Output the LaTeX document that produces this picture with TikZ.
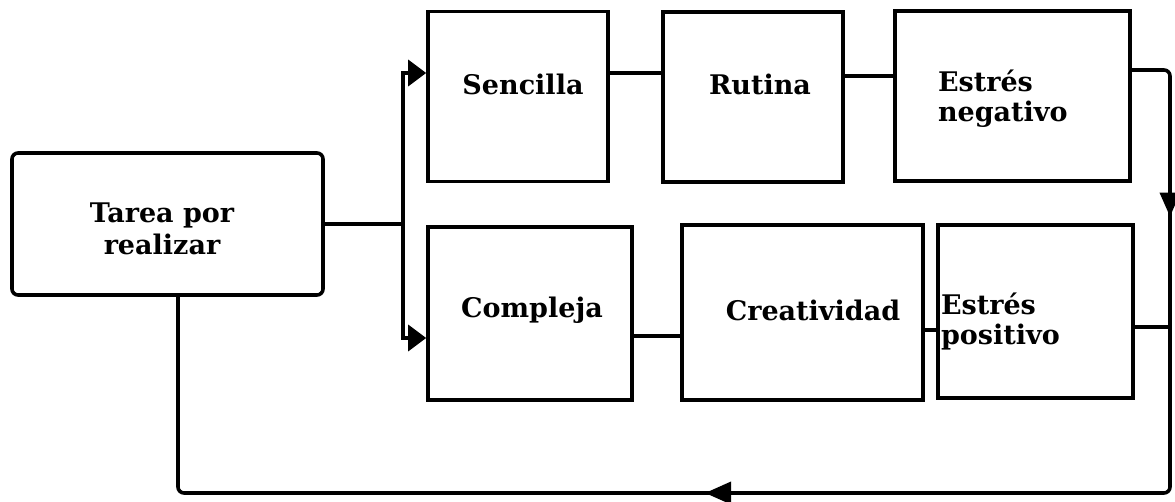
\documentclass[tikz,border=0pt]{standalone}
\usepackage{fontspec}
\setmainfont{DejaVu Serif}
\usetikzlibrary{arrows.meta,decorations.markings}
\begin{document}
\begin{tikzpicture}[x=0.5pt,y=-0.5pt,
  box/.style={draw, line width=1.8pt, inner sep=0pt},
  lbl/.style={font=\bfseries\fontsize{13.5}{15}\selectfont},
  conn/.style={line width=1.8pt},
  arr/.style={conn, -{Triangle[length=9pt,width=13pt]}},
  loopline/.style={conn, rounded corners=3pt, postaction={decorate},
    decoration={markings,
      mark=at position 0.111 with {\arrow{Triangle[length=12pt,width=10pt]}},
      mark=at position 0.561 with {\arrow{Triangle[length=13pt,width=11pt]}}}}
]
\useasboundingbox (0,0) rectangle (1175,502);

% boxes
\node[box, rounded corners=3pt, minimum width=155.5pt, minimum height=71pt] (tar) at (167.5,224) {};
\node[box, minimum width=90pt, minimum height=85pt] (sen) at (518,96.5) {};
\node[box, minimum width=90pt, minimum height=85pt] (rut) at (753,97) {};
\node[box, minimum width=117.5pt, minimum height=85pt] (neg) at (1012.5,96) {};
\node[box, minimum width=102pt, minimum height=86.5pt] (com) at (530,313.5) {};
\node[box, minimum width=120.5pt, minimum height=87.5pt] (cre) at (802.5,312.5) {};
\node[box, minimum width=97.5pt, minimum height=86.5pt] (pos) at (1035.5,311.5) {};

% texts
\node[lbl, align=center, font=\bfseries\fontsize{13.5}{16}\selectfont] (tart) at (162,229) {Tarea por\\realizar};
\node[lbl] (sent) at (523,84) {Sencilla};
\node[lbl] (rutt) at (760,84) {Rutina};
\node[lbl, anchor=west, align=left] (negt) at (931,99) {Estrés\\negativo};
\node[lbl] (comt) at (532,310) {Compleja};
\node[lbl] (cret) at (813,310) {Creatividad};
\node[lbl, anchor=west, align=left] (post) at (934,322) {Estrés\\positivo};

% junctions
\coordinate (jn) at (403,224);
\coordinate (cr) at (1170,493);
\coordinate (cl) at (178,493);

% connectors
\draw[conn] (tar.east) -- (jn);
\draw[arr] (jn) |- (sen.west |- 0,73);
\draw[arr] (jn) |- (com.west |- 0,338);
\draw[conn] (sen.east |- 0,73) -- (rut.west |- 0,73);
\draw[conn] (rut.east |- 0,76) -- (neg.west |- 0,76);
\draw[conn] (com.east |- 0,336) -- (cre.west |- 0,336);
\draw[conn] (cre.east |- 0,330) -- (pos.west |- 0,330);
\draw[conn] (pos.east |- 0,327) -- (cr |- 0,327);
\draw[loopline] (neg.east |- 0,70) -| (cr) -- (cl) -- (tar.south -| cl);
\end{tikzpicture}
\end{document}
